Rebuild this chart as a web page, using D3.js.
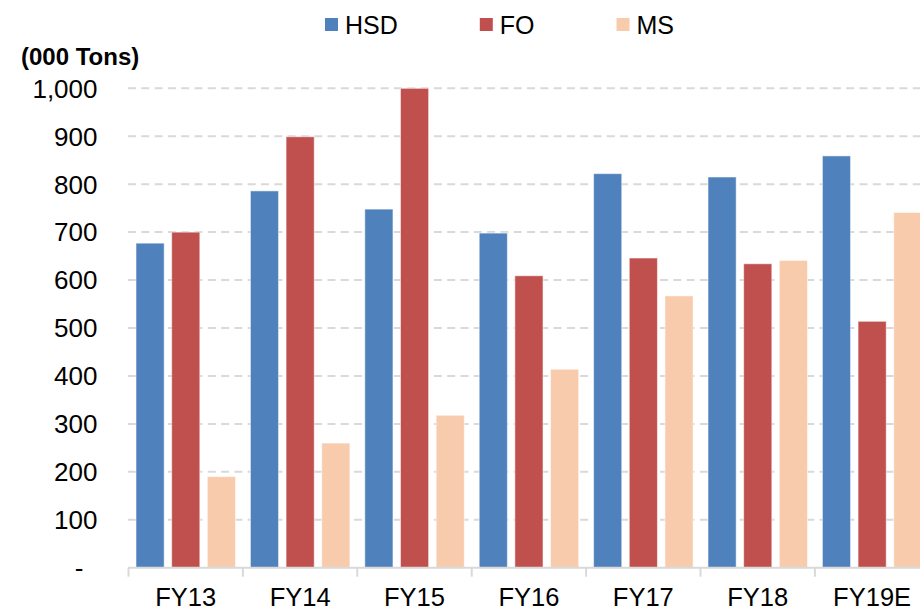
<!DOCTYPE html>
<html>
<head>
<meta charset="utf-8">
<script src="https://cdn.jsdelivr.net/npm/d3@7/dist/d3.min.js"></script>
<style>
  html, body { margin: 0; padding: 0; background: #fff; overflow: hidden; }
  svg { display: block; font-family: "Liberation Sans", Arial, sans-serif; }
</style>
</head>
<body>
<svg id="chart" width="920" height="610"></svg>
<script>
const categories = ["FY13", "FY14", "FY15", "FY16", "FY17", "FY18", "FY19E"];
const seriesNames = ["HSD", "FO", "MS"];
const hsd = [677, 786, 748, 698, 822, 815, 859];
const fo  = [700, 899, 1000, 609, 646, 634, 514];
const ms  = [190, 260, 318, 414, 567, 641, 741];
const yTicks = [0, 100, 200, 300, 400, 500, 600, 700, 800, 900, 1000];
const colors = ["#4F81BD", "#C0504D", "#F8CBAD"];
const unitLabel = "(000 Tons)";

const seriesValues = [hsd, fo, ms];
const svg = d3.select("#chart");

const x0 = d3.scaleBand().domain(categories).range([128.5, 128.5 + 7 * 114.4]).padding(0);
const x1 = d3.scaleBand().domain(seriesNames).range([7.5, 107]).paddingInner(0.21).paddingOuter(0);
const y = d3.scaleLinear().domain([0, 1000]).range([567.7, 88.3]);

// gridlines
svg.append("g").selectAll("line")
  .data(yTicks.filter(d => d > 0))
  .join("line")
  .attr("x1", 128).attr("x2", 930)
  .attr("y1", d => y(d)).attr("y2", d => y(d))
  .attr("stroke", "#d9d9d9").attr("stroke-width", 2)
  .attr("stroke-dasharray", "8,5.3");

// bars
const groups = svg.append("g").selectAll("g")
  .data(categories)
  .join("g")
  .attr("transform", d => `translate(${x0(d)},0)`);

groups.selectAll("rect")
  .data((c, i) => seriesNames.map((s, j) => ({ s, v: seriesValues[j][i], j })))
  .join("rect")
  .attr("x", d => x1(d.s))
  .attr("width", x1.bandwidth())
  .attr("y", d => y(d.v))
  .attr("height", d => y(0) - y(d.v))
  .attr("fill", d => colors[d.j])
  .attr("stroke", "rgba(255,255,255,0.55)")
  .attr("stroke-width", 1);

// x axis
const xAxis = d3.axisBottom(x0).tickSize(0).tickPadding(0);
const xg = svg.append("g").attr("transform", `translate(0,${y(0)})`).call(xAxis);
xg.select(".domain").remove();
xg.selectAll("text")
  .attr("y", 38).attr("dy", 0)
  .attr("font-size", 25.5).attr("fill", "#000")
  .attr("font-family", "Liberation Sans, Arial, sans-serif");
svg.append("line")
  .attr("x1", 128).attr("x2", 930)
  .attr("y1", y(0)).attr("y2", y(0))
  .attr("stroke", "#d9d9d9").attr("stroke-width", 2);
svg.append("g").selectAll("line")
  .data(categories)
  .join("line")
  .attr("x1", d => x0(d)).attr("x2", d => x0(d))
  .attr("y1", y(0)).attr("y2", y(0) + 9)
  .attr("stroke", "#d9d9d9").attr("stroke-width", 2);

// y axis labels
const yAxis = d3.axisLeft(y).tickValues(yTicks).tickSize(0).tickPadding(0)
  .tickFormat(d => d === 0 ? "-" : d3.format(",")(d));
const yg = svg.append("g").attr("transform", "translate(97.5,0)").call(yAxis);
yg.select(".domain").remove();
yg.selectAll("text")
  .attr("x", 0).attr("dy", "0.34em")
  .attr("font-size", 26).attr("fill", "#000")
  .attr("font-family", "Liberation Sans, Arial, sans-serif");
yg.selectAll(".tick").filter(d => d === 0).select("text").attr("x", -14);

// unit label
svg.append("text")
  .attr("x", 21).attr("y", 65)
  .attr("font-size", 24).attr("font-weight", "bold").attr("fill", "#000")
  .text(unitLabel);

// legend
const legend = svg.append("g");
let lx = 325;
seriesNames.forEach((s, j) => {
  const g = legend.append("g").attr("transform", `translate(${lx},0)`);
  g.append("rect").attr("x", 0).attr("y", 18).attr("width", 13).attr("height", 13).attr("fill", colors[j]);
  const t = g.append("text").attr("x", 20).attr("y", 34).attr("font-size", 25).attr("fill", "#000").text(s);
  lx += 20 + t.node().getComputedTextLength() + 82;
});
</script>
</body>
</html>
